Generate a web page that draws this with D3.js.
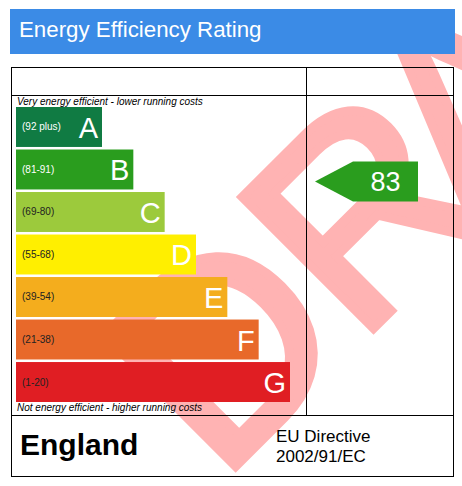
<!DOCTYPE html>
<html>
<head>
<meta charset="utf-8">
<script src="https://cdn.jsdelivr.net/npm/d3@7"></script>
<style>
  body { margin: 0; background: #fff; }
  svg { display: block; font-family: "Liberation Sans", Arial, sans-serif; }
</style>
</head>
<body>
<div id="chart"></div>
<script>
// rating bands, top (best) to bottom
var letters = ['A', 'B', 'C', 'D', 'E', 'F', 'G'];
var rangeLabels = ['(92 plus)', '(81-91)', '(69-80)', '(55-68)', '(39-54)', '(21-38)', '(1-20)'];
var bandMin = [92, 81, 69, 55, 39, 21, 1];
var bandMax = [100, 91, 80, 68, 54, 38, 20];
var bandColors = ['#107b43', '#2a9d1e', '#9cca3c', '#ffef00', '#f4ad1d', '#e8692a', '#e01e23'];
var rangeTextColors = ['#fff', '#fff', '#222', '#222', '#222', '#222', '#222'];
var currentRating = 83;

var width = 462;
var height = 486;

var svg = d3.select('#chart')
    .append('svg')
    .attr('width', width)
    .attr('height', height);

// watermark underneath everything
var mark = svg.append('text')
    .attr('transform', 'translate(220, 482) rotate(-45)')
    .attr('font-size', 270)
    .attr('fill', '#ffb3b3')
    .attr('stroke', '#ffb3b3')
    .attr('stroke-width', 9)
    .attr('stroke-linejoin', 'miter');
mark.append('tspan').text('DR');
mark.append('tspan').attr('dx', -30).text('AFT');

// title bar
svg.append('rect')
    .attr('x', 10).attr('y', 9)
    .attr('width', 445).attr('height', 45)
    .attr('fill', '#3b8be6');

svg.append('text')
    .attr('x', 19).attr('y', 37)
    .attr('font-size', 22.3)
    .attr('fill', '#fff')
    .text('Energy Efficiency Rating');

// table frame
var frame = svg.append('g')
    .attr('fill', 'none')
    .attr('stroke', '#000')
    .attr('stroke-width', 1);

frame.append('rect').attr('x', 11.5).attr('y', 67.5).attr('width', 442).attr('height', 409);
frame.append('line').attr('x1', 11.5).attr('x2', 453.5).attr('y1', 95.5).attr('y2', 95.5);
frame.append('line').attr('x1', 11.5).attr('x2', 453.5).attr('y1', 415.5).attr('y2', 415.5);
frame.append('line').attr('x1', 306.5).attr('x2', 306.5).attr('y1', 67.5).attr('y2', 415.5);

svg.append('text')
    .attr('x', 17).attr('y', 105)
    .attr('font-size', 10)
    .attr('font-style', 'italic')
    .text('Very energy efficient - lower running costs');

svg.append('text')
    .attr('x', 17).attr('y', 411)
    .attr('font-size', 10)
    .attr('font-style', 'italic')
    .text('Not energy efficient - higher running costs');

// bars
var y = d3.scaleBand()
    .domain(letters)
    .range([107, 402])
    .paddingInner(0.06);

var xEnd = d3.scaleLinear()
    .domain([0, letters.length - 1])
    .range([102, 290]);

var barLeft = 16;

var bars = svg.selectAll('.band')
    .data(letters)
    .enter()
    .append('g')
    .attr('class', 'band')
    .attr('transform', function (d) { return 'translate(0,' + y(d) + ')'; });

bars.append('rect')
    .attr('x', barLeft)
    .attr('width', function (d, i) { return xEnd(i) - barLeft; })
    .attr('height', y.bandwidth())
    .attr('fill', function (d, i) { return bandColors[i]; });

bars.append('text')
    .attr('x', barLeft + 6)
    .attr('y', y.bandwidth() / 2 + 3.5)
    .attr('font-size', 10)
    .attr('fill', function (d, i) { return rangeTextColors[i]; })
    .text(function (d, i) { return rangeLabels[i]; });

bars.append('text')
    .attr('x', function (d, i) { return xEnd(i) - 4; })
    .attr('y', y.bandwidth() / 2 + 11)
    .attr('font-size', 29)
    .attr('text-anchor', 'end')
    .attr('fill', '#fff')
    .text(function (d) { return d; });

// current rating arrow
var idx = bandMin.findIndex(function (m, i) { return currentRating >= m && currentRating <= bandMax[i]; });
var inBand = d3.scaleLinear()
    .domain([bandMax[idx], bandMin[idx]])
    .range([y(letters[idx]), y(letters[idx]) + y.bandwidth()]);
var cy = inBand(currentRating);
var half = y.bandwidth() / 2;
var tipX = 315, shoulderX = 353, endX = 418;

svg.append('polygon')
    .attr('points', [
        [tipX, cy], [shoulderX, cy - half], [endX, cy - half],
        [endX, cy + half], [shoulderX, cy + half]
    ].join(' '))
    .attr('fill', bandColors[idx]);

svg.append('text')
    .attr('x', (shoulderX + endX) / 2)
    .attr('y', cy + 9.5)
    .attr('font-size', 27)
    .attr('text-anchor', 'middle')
    .attr('fill', '#fff')
    .text(currentRating);

// footer
svg.append('text')
    .attr('x', 20).attr('y', 455)
    .attr('font-size', 30)
    .attr('font-weight', 'bold')
    .text('England');

svg.append('text')
    .attr('x', 276).attr('y', 442)
    .attr('font-size', 17)
    .text('EU Directive');

svg.append('text')
    .attr('x', 276).attr('y', 462)
    .attr('font-size', 17)
    .text('2002/91/EC');
</script>
</body>
</html>
